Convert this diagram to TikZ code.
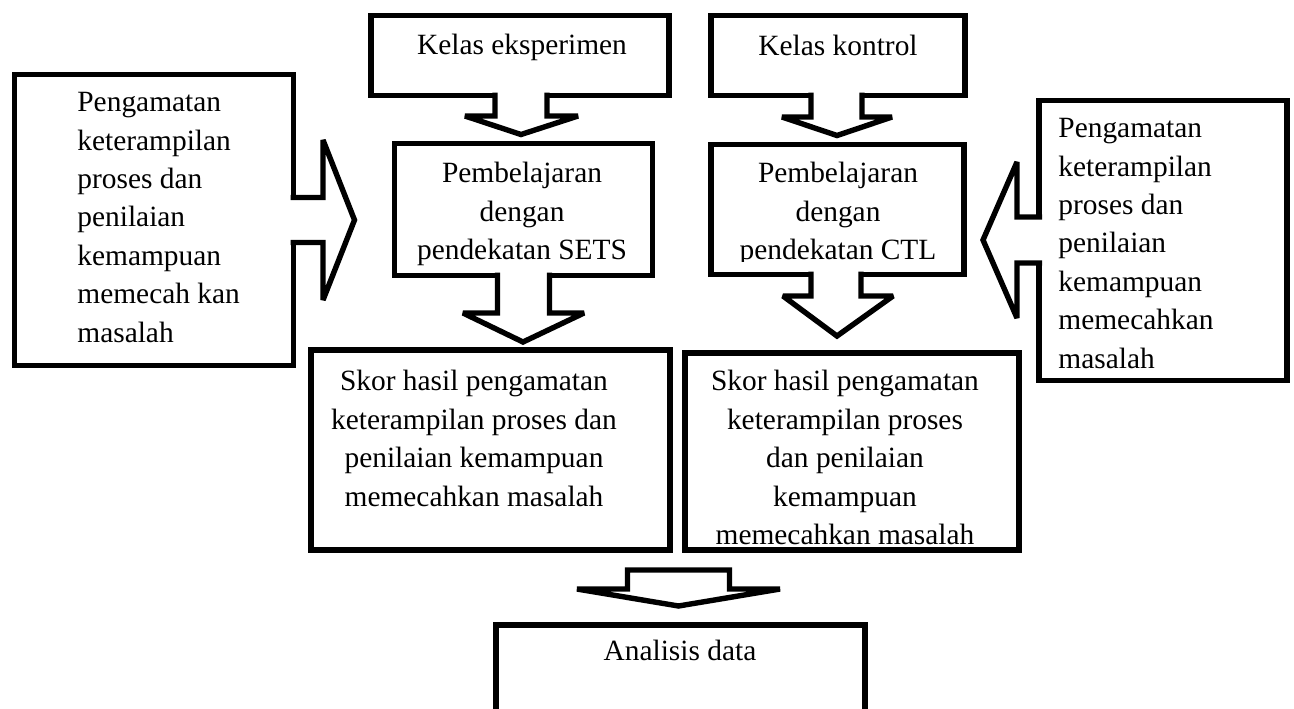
\documentclass[tikz,border=0pt]{standalone}
\usepackage{fontspec}
\setmainfont{Liberation Serif}
\usetikzlibrary{calc}
\tikzset{
  box/.style={draw, line width=2.7pt, inner sep=0pt, outer sep=0pt},
  txt/.style={inner sep=0pt, font=\fontsize{14.7}{19.2}\selectfont},
  blk/.style={draw, fill=white, line width=2.7pt, miter limit=2}
}
\begin{document}
\begin{tikzpicture}[x=0.5pt, y=-0.5pt]
  \useasboundingbox (0,0) rectangle (1294,708);

  % boxes
  \node[box, minimum width=139.5pt, minimum height=145.5pt] (obsL) at (154,220) {};
  \node[box, minimum width=149pt, minimum height=40pt] (kelasE) at (520,55.5) {};
  \node[box, minimum width=127pt, minimum height=40pt] (kelasK) at (838,55.5) {};
  \node[box, minimum width=129pt, minimum height=66pt] (sets) at (523.5,209.5) {};
  \node[box, minimum width=126.5pt, minimum height=65pt] (ctl) at (837.5,209.5) {};
  \node[box, minimum width=124pt, minimum height=140pt] (obsR) at (1163,240.5) {};
  \node[box, minimum width=179.5pt, minimum height=100pt] (skorA) at (490.5,450) {};
  \node[box, minimum width=167pt, minimum height=98.5pt] (skorB) at (852,451.5) {};
  \node[box, minimum width=184.5pt, minimum height=70pt] (analisis) at (680.5,695) {};

  % texts
  \node[txt, anchor=north west, align=left] (obsLtxt) at (77,92) {Pengamatan\\keterampilan\\proses dan\\penilaian\\kemampuan\\memecah kan\\masalah};
  \node[txt, anchor=north west, align=left] (obsRtxt) at (1058,118) {Pengamatan\\keterampilan\\proses dan\\penilaian\\kemampuan\\memecahkan\\masalah};
  \node[txt, anchor=base] (kelasEtxt) at (522,54) {Kelas eksperimen};
  \node[txt, anchor=base] (kelasKtxt) at (838,55) {Kelas kontrol};
  \node[txt, anchor=north, align=center] (setstxt) at (522,162) {Pembelajaran\\dengan\\pendekatan SETS};
  \begin{scope}
    \clip (ctl.north west) rectangle ($(ctl.east)+(0,52)$);
    \node[txt, anchor=north, align=center] (ctltxt) at (838,162) {Pembelajaran\\dengan\\pendekatan CTL};
  \end{scope}
  \node[txt, anchor=north, align=center] (skorAtxt) at (474,370) {Skor hasil pengamatan\\keterampilan proses dan\\penilaian kemampuan\\memecahkan masalah};
  \node[txt, anchor=north, align=center] (skorBtxt) at (845,370) {Skor hasil pengamatan\\keterampilan proses\\dan penilaian\\kemampuan\\memecahkan masalah};
  \node[txt, anchor=base] (analisistxt) at (680,660) {Analisis data};

  % block arrows
  \filldraw[blk] ($(495,0 |- kelasE.south)+(0,-3)$) -- (495,116) -- (465,116) -- ($(521,0 |- sets.north)+(0,-9)$) -- (578,116) -- (547,116) -- ($(547,0 |- kelasE.south)+(0,-3)$);
  \filldraw[blk] ($(811,0 |- kelasK.south)+(0,-3)$) -- (811,117) -- (782,117) -- ($(837,0 |- ctl.north)+(0,-9)$) -- (892,117) -- (862,117) -- ($(862,0 |- kelasK.south)+(0,-3)$);
  \filldraw[blk] ($(497.5,0 |- sets.south)+(0,-3)$) -- (497.5,313) -- (463,313) -- ($(523,0 |- skorA.north)+(0,-8)$) -- (584,313) -- (549.5,313) -- ($(549.5,0 |- sets.south)+(0,-3)$);
  \filldraw[blk] ($(811,0 |- ctl.south)+(0,-3)$) -- (811,296) -- (783,296) -- ($(837,0 |- skorB.north)+(0,-17)$) -- (893,296) -- (861,296) -- ($(861,0 |- ctl.south)+(0,-3)$);
  \filldraw[blk] ($(obsL.east |- 0,197.5)+(-3,0)$) -- (323,197.5) -- (323,140) -- ($(sets.west |- 0,220)+(-40,0)$) -- (323,300) -- (323,242.5) -- ($(obsL.east |- 0,242.5)+(-3,0)$);
  \filldraw[blk] ($(obsR.west |- 0,217)+(3,0)$) -- (1017,217) -- (1017,162) -- ($(ctl.east |- 0,240)+(19,0)$) -- (1017,318) -- (1017,263) -- ($(obsR.west |- 0,263)+(3,0)$);
  \draw[blk] (627.5,570) -- (627.5,589) -- (577,589) -- ($(analisis.north)+(-2,-19)$) -- (780,589) -- (729.5,589) -- (729.5,570) -- cycle;
\end{tikzpicture}
\end{document}
